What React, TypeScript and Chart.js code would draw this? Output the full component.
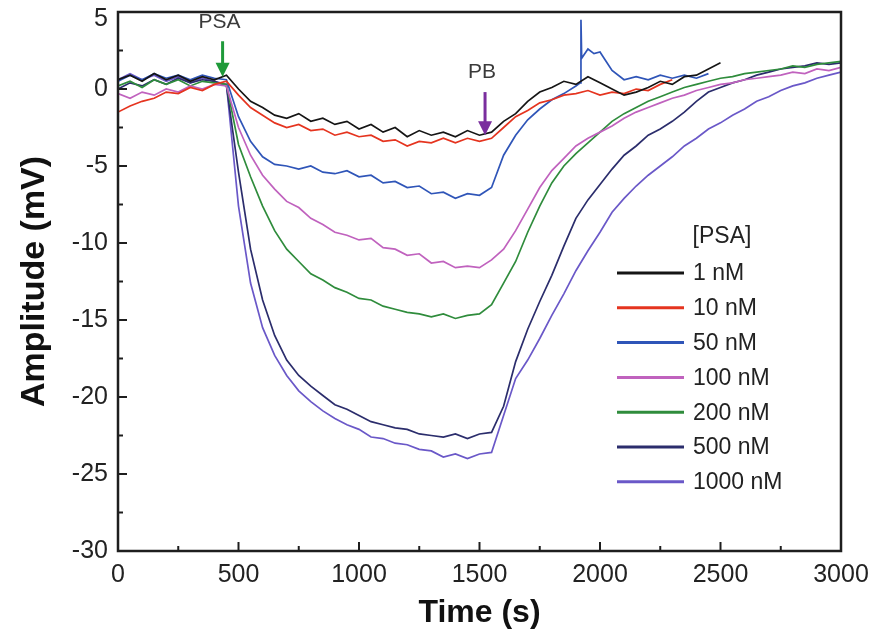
import React, { useEffect, useRef } from "react";
import { Chart, registerables } from "chart.js";

Chart.register(...registerables);

// ---------- data ----------
const time = [
  0, 50, 100, 150, 200, 250, 300, 350, 400, 450,
  500, 550, 600, 650, 700, 750, 800, 850, 900, 950,
  1000, 1050, 1100, 1150, 1200, 1250, 1300, 1350, 1400, 1450,
  1500, 1550, 1600, 1650, 1700, 1750, 1800, 1850, 1900, 1950,
  2000, 2050, 2100, 2150, 2200, 2250, 2300, 2350, 2400, 2450,
  2500, 2550, 2600, 2650, 2700, 2750, 2800, 2850, 2900, 2950,
  3000,
];

const blueTime = [
  0, 50, 100, 150, 200, 250, 300, 350, 400, 450,
  500, 550, 600, 650, 700, 750, 800, 850, 900, 950,
  1000, 1050, 1100, 1150, 1200, 1250, 1300, 1350, 1400, 1450,
  1500, 1550, 1600, 1650, 1700, 1750, 1800, 1850, 1900,
  1918, 1921, 1924, 1950, 1975, 2000, 2025, 2050, 2100, 2150,
  2200, 2250, 2300, 2350, 2400, 2450,
];

const nM1 = [
  0.6, 0.9, 0.5, 1.0, 0.6, 0.9, 0.5, 0.8, 0.6, 0.9,
  0.0, -0.8, -1.2, -1.7, -1.9, -1.6, -2.1, -1.9, -2.3, -2.1,
  -2.6, -2.3, -2.8, -2.5, -3.1, -2.7, -3.0, -2.8, -3.1, -2.7,
  -3.0, -2.8, -2.1, -1.6, -0.8, -0.2, 0.1, 0.5, 0.3, 0.8,
  0.4, 0.0, -0.4, -0.2, 0.1, 0.5, 0.3, 0.8, 0.9, 1.3,
  1.7,
];

const nM10 = [
  -1.5, -1.1, -0.8, -0.6, -0.2, -0.3, 0.1, -0.1, 0.3, 0.5,
  -0.4, -1.2, -1.7, -2.2, -2.5, -2.3, -2.7, -2.6, -3.0, -2.8,
  -3.1, -3.0, -3.4, -3.3, -3.7, -3.4, -3.5, -3.2, -3.5, -3.2,
  -3.4, -3.2, -2.5, -1.8, -1.4, -0.9, -0.7, -0.4, -0.3, -0.1,
  -0.4, -0.2, -0.3, 0.0, -0.1, 0.3, 0.6,
];

const nM50 = [
  0.5, 0.9, 0.6, 1.0, 0.7, 0.9, 0.6, 0.9, 0.7, 0.6,
  -1.8, -3.4, -4.4, -4.9, -5.0, -5.2, -5.0, -5.4, -5.5, -5.3,
  -5.7, -5.6, -6.1, -6.0, -6.4, -6.3, -6.8, -6.7, -7.1, -6.8,
  -6.9, -6.4, -4.3, -3.0, -2.0, -1.3, -0.7, -0.3, 0.2,
  0.4, 4.5, 2.0, 2.6, 2.3, 2.4, 1.8, 1.2, 0.6, 0.8,
  0.6, 0.9, 0.7, 0.9, 0.7, 1.0,
];

const nM100 = [
  -0.3, -0.6, -0.2, -0.4, 0.0, -0.2, 0.2, 0.0, 0.3, 0.2,
  -2.5, -4.3, -5.6, -6.5, -7.3, -7.7, -8.4, -8.8, -9.3, -9.5,
  -9.8, -9.7, -10.3, -10.4, -10.8, -10.7, -11.3, -11.2, -11.6, -11.5,
  -11.6, -11.1, -10.4, -9.2, -7.8, -6.4, -5.3, -4.5, -3.7, -3.2,
  -2.8, -2.4, -1.9, -1.5, -1.2, -0.9, -0.6, -0.4, -0.1, 0.1,
  0.3, 0.4, 0.6, 0.7, 0.8, 0.9, 1.1, 1.0, 1.3, 1.2,
  1.4,
];

const nM200 = [
  0.2, 0.5, 0.1, 0.6, 0.3, 0.6, 0.2, 0.5, 0.4, 0.3,
  -3.6, -5.7, -7.6, -9.2, -10.4, -11.2, -12.0, -12.4, -12.9, -13.2,
  -13.6, -13.7, -14.1, -14.3, -14.5, -14.6, -14.8, -14.6, -14.9, -14.7,
  -14.6, -14.0, -12.6, -11.2, -9.3, -7.6, -6.1, -5.0, -4.2, -3.5,
  -2.8, -2.1, -1.6, -1.2, -0.8, -0.5, -0.2, 0.1, 0.3, 0.5,
  0.7, 0.8, 1.0, 1.1, 1.2, 1.3, 1.5, 1.4, 1.6, 1.7,
  1.8,
];

const nM500 = [
  0.0, 0.4, 0.2, 0.6, 0.3, 0.7, 0.4, 0.6, 0.5, 0.2,
  -5.4, -10.4, -13.7, -16.0, -17.6, -18.6, -19.3, -19.9, -20.5, -20.8,
  -21.2, -21.6, -21.8, -22.0, -22.1, -22.4, -22.5, -22.6, -22.4, -22.7,
  -22.4, -22.3, -20.6, -17.7, -15.6, -13.8, -12.1, -10.2, -8.4, -7.2,
  -6.2, -5.2, -4.3, -3.7, -3.0, -2.6, -2.1, -1.5, -0.8, -0.2,
  0.1, 0.4, 0.6, 0.9, 1.1, 1.3, 1.4, 1.5, 1.7, 1.6,
  1.7,
];

const nM1000 = [
  0.6, 1.0, 0.6, 0.9, 0.5, 0.8, 0.4, 0.7, 0.5, 0.3,
  -7.6, -12.6, -15.5, -17.3, -18.6, -19.6, -20.3, -20.9, -21.4, -21.8,
  -22.1, -22.6, -22.7, -23.0, -23.1, -23.4, -23.5, -23.9, -23.7, -24.0,
  -23.7, -23.6, -21.2, -18.8, -17.6, -16.2, -14.7, -13.3, -11.8, -10.5,
  -9.3, -8.0, -7.1, -6.3, -5.6, -5.0, -4.4, -3.7, -3.2, -2.6,
  -2.2, -1.7, -1.3, -0.8, -0.5, -0.1, 0.2, 0.4, 0.7, 0.9,
  1.1,
];

const seriesLabels = ["1 nM", "10 nM", "50 nM", "100 nM", "200 nM", "500 nM", "1000 nM"];
const seriesColors = ["#151515", "#e5341f", "#2f55b8", "#c062be", "#2f8c3c", "#2b2d6c", "#6a58c8"];

const xTickValues = [0, 500, 1000, 1500, 2000, 2500, 3000];
const yTickValues = [-30, -25, -20, -15, -10, -5, 0, 5];

const legendTitle = "[PSA]";
const markers = [
  { label: "PSA", x: 434, yTop: 3.1, yTip: 0.8, labelY: 4.35, color: "#1f9a3a" },
  { label: "PB", x: 1523, yTop: -0.2, yTip: -3.0, labelY: 1.1, color: "#7a2e9e" },
];

const FONT = "'Liberation Sans', Arial, Helvetica, sans-serif";

function toPoints(t: number[], v: number[]) {
  return v.map((y, i) => ({ x: t[i], y }));
}

// nudge the topmost y tick label inside the canvas, as in the reference
const topLabelPlugin = {
  id: "topLabelNudge",
  beforeDraw(chart: any) {
    const ys = chart.scales && chart.scales.y;
    if (!ys || typeof ys.getLabelItems !== "function") return;
    const items = ys.getLabelItems(chart.chartArea);
    if (!Array.isArray(items)) return;
    const topLabel = String(yTickValues[yTickValues.length - 1]);
    items.forEach((it: any) => {
      if (it && String(it.label) === topLabel && it.options && Array.isArray(it.options.translation) && !it.__nudged) {
        it.options.translation = [it.options.translation[0], it.options.translation[1] + 7];
        it.__nudged = true;
      }
    });
  },
};

const decorPlugin = {
  id: "decor",
  afterDatasetsDraw(chart: any) {
    const { ctx, chartArea, scales } = chart;
    const { left, right, top, bottom } = chartArea;
    const xs = scales.x;
    const ys = scales.y;
    ctx.save();

    // frame
    ctx.strokeStyle = "#1e1e1e";
    ctx.lineWidth = 2.5;
    ctx.strokeRect(left, top, right - left, bottom - top);

    // inward ticks (major + minor)
    ctx.lineWidth = 2;
    const drawX = (v: number, len: number) => {
      const px = xs.getPixelForValue(v);
      ctx.beginPath();
      ctx.moveTo(px, bottom);
      ctx.lineTo(px, bottom - len);
      ctx.stroke();
    };
    const drawY = (v: number, len: number) => {
      const py = ys.getPixelForValue(v);
      ctx.beginPath();
      ctx.moveTo(left, py);
      ctx.lineTo(left + len, py);
      ctx.stroke();
    };
    xTickValues.forEach((v, i) => {
      drawX(v, 9);
      if (i < xTickValues.length - 1) drawX((v + xTickValues[i + 1]) / 2, 5);
    });
    yTickValues.forEach((v, i) => {
      drawY(v, 9);
      if (i < yTickValues.length - 1) drawY((v + yTickValues[i + 1]) / 2, 5);
    });

    // arrows + labels
    markers.forEach((m) => {
      const px = xs.getPixelForValue(m.x);
      const pTop = ys.getPixelForValue(m.yTop);
      const pTip = ys.getPixelForValue(m.yTip);
      const head = 14;
      ctx.strokeStyle = m.color;
      ctx.fillStyle = m.color;
      ctx.lineWidth = 3;
      ctx.beginPath();
      ctx.moveTo(px, pTop);
      ctx.lineTo(px, pTip - head + 2);
      ctx.stroke();
      ctx.beginPath();
      ctx.moveTo(px - 7, pTip - head);
      ctx.lineTo(px + 7, pTip - head);
      ctx.lineTo(px, pTip);
      ctx.closePath();
      ctx.fill();
      ctx.fillStyle = "#3a3a3a";
      ctx.font = `21px ${FONT}`;
      ctx.textAlign = "center";
      ctx.textBaseline = "middle";
      ctx.fillText(m.label, px - 3, ys.getPixelForValue(m.labelY));
    });

    // legend
    const lx0 = right - 224;
    const lx1 = right - 157;
    const tx = right - 148;
    const titleY = top + 225;
    const row0 = top + 261;
    const rowH = 34.8;
    ctx.fillStyle = "#222";
    ctx.font = `23px ${FONT}`;
    ctx.textAlign = "center";
    ctx.textBaseline = "middle";
    ctx.fillText(legendTitle, right - 119, titleY);
    ctx.textAlign = "left";
    chart.data.datasets.forEach((ds: any, i: number) => {
      const yy = row0 + i * rowH;
      ctx.strokeStyle = ds.borderColor;
      ctx.lineWidth = 3;
      ctx.beginPath();
      ctx.moveTo(lx0, yy);
      ctx.lineTo(lx1, yy);
      ctx.stroke();
      ctx.fillStyle = "#222";
      ctx.fillText(ds.label, tx, yy + 1);
    });

    ctx.restore();
  },
};

export default function App() {
  const ref = useRef<HTMLCanvasElement | null>(null);

  useEffect(() => {
    if (!ref.current) return;
    const series = [
      toPoints(time, nM1),
      toPoints(time, nM10),
      toPoints(blueTime, nM50),
      toPoints(time, nM100),
      toPoints(time, nM200),
      toPoints(time, nM500),
      toPoints(time, nM1000),
    ];
    const chart = new Chart(ref.current, {
      type: "line",
      data: {
        datasets: series.map((d, i) => ({
          label: seriesLabels[i],
          data: d,
          borderColor: seriesColors[i],
          backgroundColor: seriesColors[i],
          borderWidth: 1.7,
          pointRadius: 0,
          tension: 0,
          fill: false,
        })),
      },
      options: {
        animation: false,
        responsive: true,
        maintainAspectRatio: false,
        layout: { padding: { top: 12, right: 44, left: 0, bottom: 0 } },
        plugins: { legend: { display: false }, tooltip: { enabled: false } },
        scales: {
          x: {
            type: "linear",
            min: 0,
            max: 3000,
            afterFit: (s: any) => {
              s.height = 91;
              s.paddingLeft = 0;
              s.paddingRight = 0;
            },
            afterBuildTicks: (s: any) => {
              s.ticks = xTickValues.map((v) => ({ value: v }));
            },
            ticks: {
              autoSkip: false,
              maxRotation: 0,
              padding: 9,
              color: "#222",
              font: { size: 25, family: FONT },
              callback: (v: any) => String(v),
            },
            grid: { display: false, drawTicks: false },
            border: { display: false },
            title: {
              display: true,
              text: "Time (s)",
              color: "#111",
              font: { size: 32, weight: "bold", family: FONT },
              padding: { top: 0, bottom: 10 },
            },
          },
          y: {
            type: "linear",
            min: -30,
            max: 5,
            afterFit: (s: any) => {
              s.width = 118;
              s.paddingTop = 0;
              s.paddingBottom = 0;
            },
            afterBuildTicks: (s: any) => {
              s.ticks = yTickValues.map((v) => ({ value: v }));
            },
            ticks: {
              autoSkip: false,
              padding: 10,
              color: "#222",
              font: { size: 25, family: FONT },
              callback: (v: any) => String(v),
            },
            grid: { display: false, drawTicks: false },
            border: { display: false },
            title: {
              display: true,
              text: "Amplitude (mV)",
              color: "#111",
              font: { size: 34, weight: "bold", family: FONT },
              padding: { top: 14, bottom: 0 },
            },
          },
        },
      },
      plugins: [topLabelPlugin, decorPlugin],
    } as any);
    return () => chart.destroy();
  }, []);

  return (
    <div style={{ width: 885, height: 642, margin: -8, position: "relative" }}>
      <canvas ref={ref} />
    </div>
  );
}
